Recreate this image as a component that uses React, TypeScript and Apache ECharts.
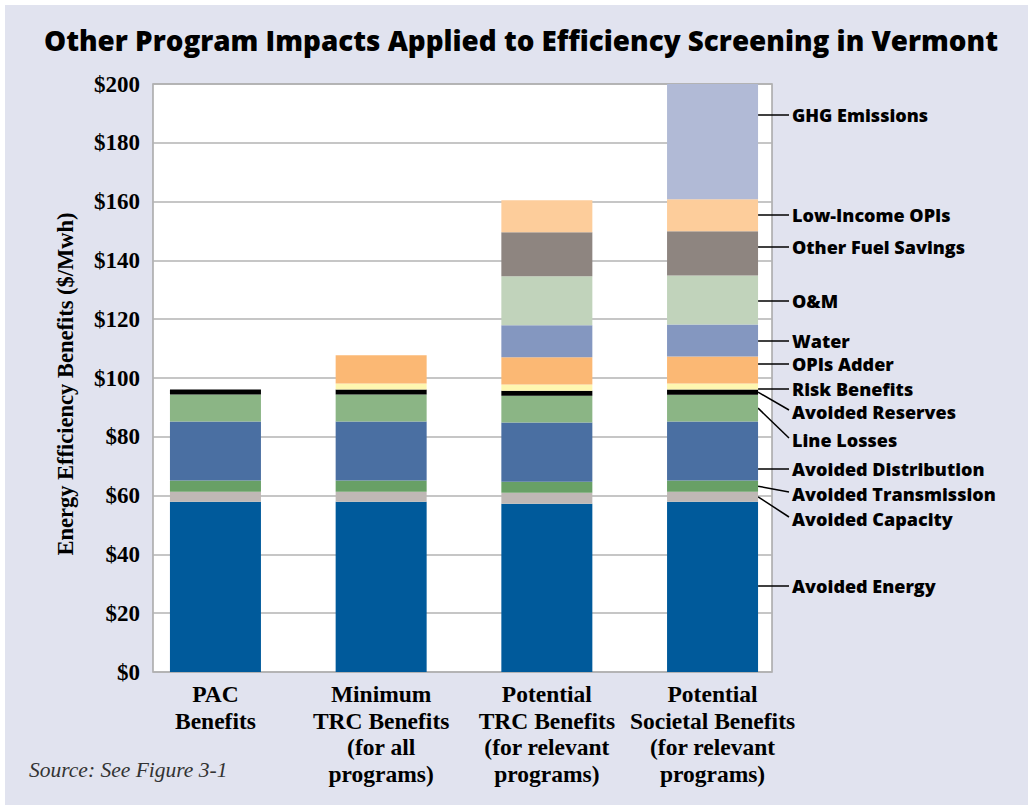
import React, { useEffect, useRef } from 'react';
import * as echarts from 'echarts';

const categories = [
  'PAC\nBenefits',
  'Minimum\nTRC Benefits\n(for all\nprograms)',
  'Potential\nTRC Benefits\n(for relevant\nprograms)',
  'Potential\nSocietal Benefits\n(for relevant\nprograms)',
];

// values in $/MWh, stacked bottom -> top
const avoidedEnergy = [57.9, 57.9, 57.2, 57.9];
const avoidedCapacity = [3.4, 3.4, 3.8, 3.4];
const avoidedTransmission = [3.8, 3.8, 3.7, 3.8];
const avoidedDistribution = [20.1, 20.1, 20.2, 20.1];
const lineLosses = [9.2, 9.2, 9.1, 9.1];
const avoidedReserves = [1.7, 1.7, 1.7, 1.8];
const riskBenefits = [null, 2.0, 2.1, 2.0];
const opisAdder = [null, 9.6, 9.3, 9.2];
const water = [null, null, 10.8, 10.9];
const oAndM = [null, null, 16.7, 16.7];
const otherFuelSavings = [null, null, 15.0, 15.0];
const lowIncomeOpis = [null, null, 10.9, 10.9];
const ghgEmissions = [null, null, null, 39.2];

const seriesNames = [
  'Avoided Energy',
  'Avoided Capacity',
  'Avoided Transmission',
  'Avoided Distribution',
  'Line Losses',
  'Avoided Reserves',
  'Risk Benefits',
  'OPIs Adder',
  'Water',
  'O&M',
  'Other Fuel Savings',
  'Low-Income OPIs',
  'GHG Emissions',
];
const seriesData = [
  avoidedEnergy,
  avoidedCapacity,
  avoidedTransmission,
  avoidedDistribution,
  lineLosses,
  avoidedReserves,
  riskBenefits,
  opisAdder,
  water,
  oAndM,
  otherFuelSavings,
  lowIncomeOpis,
  ghgEmissions,
];
const colors = [
  '#005a9b',
  '#bfb8b5',
  '#68a066',
  '#4a6fa2',
  '#8bb585',
  '#000000',
  '#fef7b0',
  '#fbb874',
  '#8497c0',
  '#c1d3bb',
  '#8e8580',
  '#fdcd9b',
  '#b1bad6',
];
// label vertical positions (layout) for the right-hand annotations
const labelY = [586, 519, 494, 469, 440, 412, 389, 364, 341, 301, 247, 215, 115];

const yMin = 0;
const yMax = 200;
const yInterval = 20;

const BG = '#e1e3ef';
const SERIF = '"Liberation Serif", "DejaVu Serif", serif';
const SANS = '"Open Sans", Lato, sans-serif';

export default function App() {
  const ref = useRef<HTMLDivElement>(null);
  useEffect(() => {
    document.body.style.margin = '0';
    const chart = echarts.init(ref.current!, null, { renderer: 'svg' });
    const frame = { left: 153, top: 84, width: 619, height: 588 };
    const barGrid = { left: 132.6, top: 84, width: 662.8, height: 588 };
    const barWidth = 91;
    chart.setOption({
      animation: false,
      backgroundColor: BG,
      grid: [
        {
          ...frame,
          show: true,
          backgroundColor: '#ffffff',
          borderColor: '#a6a6a6',
          borderWidth: 1.5,
        },
        { ...barGrid, show: false },
      ],
      xAxis: [
        {
          gridIndex: 0,
          type: 'category',
          data: categories,
          show: false,
        },
        {
          gridIndex: 1,
          type: 'category',
          data: categories,
          axisLine: { show: false },
          axisTick: { show: false },
          axisLabel: {
            interval: 0,
            margin: 9,
            color: '#000',
            fontFamily: SERIF,
            fontWeight: 'bold',
            fontSize: 23.5,
            lineHeight: 26.5,
          },
        },
      ],
      yAxis: [
        {
          gridIndex: 0,
          type: 'value',
          min: yMin,
          max: yMax,
          interval: yInterval,
          axisLine: { show: false },
          axisTick: { show: false },
          splitLine: { lineStyle: { color: '#b3b3b3', width: 1.5 } },
          axisLabel: {
            margin: 13,
            color: '#000',
            fontFamily: SERIF,
            fontWeight: 'bold',
            fontSize: 23,
            formatter: (v: number) => '$' + v,
          },
          name: 'Energy Efficiency Benefits ($/Mwh)',
          nameLocation: 'middle',
          nameRotate: 90,
          nameGap: 76,
          nameTextStyle: {
            color: '#000',
            fontFamily: SERIF,
            fontWeight: 'bold',
            fontSize: 22.5,
            padding: [0, 0, 0, -12],
          },
        },
        {
          gridIndex: 1,
          type: 'value',
          min: yMin,
          max: yMax,
          interval: yInterval,
          show: false,
          splitLine: { show: false },
        },
      ],
      series: seriesNames.map((name, i) => ({
        name,
        type: 'bar',
        stack: 'total',
        xAxisIndex: 1,
        yAxisIndex: 1,
        barWidth,
        data: seriesData[i],
        itemStyle: { color: colors[i] },
      })),
    });

    // annotations for the last bar
    const last = categories.length - 1;
    const centerX = chart.convertToPixel({ xAxisIndex: 1, yAxisIndex: 1 }, [last, 0])[0];
    const rightEdge = centerX + barWidth / 2;
    const lineEndX = 789;
    const textX = 792;
    const graphics: any[] = [
      { type: 'rect', shape: { x: 0, y: 0, width: 1028, height: 5 }, style: { fill: '#fff' }, silent: true },
      { type: 'rect', shape: { x: 0, y: 0, width: 5, height: 805 }, style: { fill: '#fff' }, silent: true },
      {
        type: 'text',
        x: 521,
        y: 40,
        style: {
          text: 'Other Program Impacts Applied to Efficiency Screening in Vermont',
          fontFamily: SANS,
          fontWeight: 800,
          fontSize: 27.8,
          fill: '#000',
          align: 'center',
          verticalAlign: 'middle',
        },
      },
      {
        type: 'text',
        x: 29,
        y: 770,
        style: {
          text: 'Source: See Figure 3-1',
          fontFamily: SERIF,
          fontStyle: 'italic',
          fontSize: 21.5,
          fill: '#333',
          verticalAlign: 'middle',
        },
      },
    ];
    let cum = 0;
    seriesNames.forEach((name, i) => {
      const v = (seriesData[i][last] as number) || 0;
      const lo = cum;
      const hi = Math.min(cum + v, yMax);
      cum += v;
      const yLo = chart.convertToPixel({ xAxisIndex: 1, yAxisIndex: 1 }, [last, lo])[1];
      const yHi = chart.convertToPixel({ xAxisIndex: 1, yAxisIndex: 1 }, [last, hi])[1];
      const ly = labelY[i];
      const inside = ly <= yLo && ly >= yHi;
      const startY = inside ? ly : (yLo + yHi) / 2;
      const endY = inside ? ly : ly - 2;
      graphics.push({
        type: 'line',
        shape: { x1: rightEdge, y1: startY, x2: lineEndX, y2: endY },
        style: { stroke: '#000', lineWidth: 1.5 },
        silent: true,
      });
      graphics.push({
        type: 'text',
        x: textX,
        y: ly,
        style: {
          text: name,
          fontFamily: SANS,
          fontWeight: 800,
          fontSize: 18,
          fill: '#000',
          verticalAlign: 'middle',
        },
      });
    });
    chart.setOption({ graphic: graphics });
    return () => chart.dispose();
  }, []);
  return <div ref={ref} style={{ width: 1028, height: 805 }} />;
}
